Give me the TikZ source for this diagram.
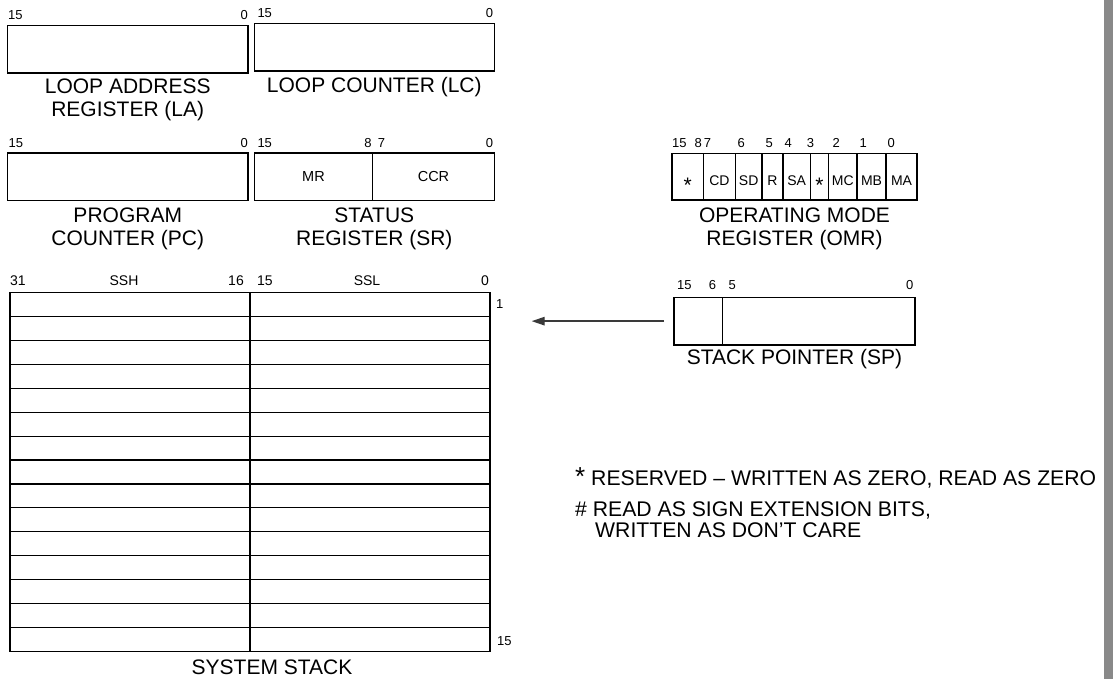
\documentclass[tikz,border=0pt]{standalone}
\usepackage{fontspec}
\setmainfont{Liberation Sans}
\usetikzlibrary{arrows.meta,positioning,calc}
\definecolor{BarGrey}{HTML}{898989}
\definecolor{PtrGrey}{HTML}{3A3A3A}
\newcommand{\rsv}{\raisebox{-7pt}{\fontsize{21}{21}\selectfont *}}

\begin{document}
\begin{tikzpicture}[x=1pt,y=-1pt]
  \tikzset{
    reg/.style={draw,line width=1.1pt,inner sep=0pt,outer sep=0pt,minimum height=47.5pt,anchor=north west},
    fld/.style={reg,font=\fontsize{14.5}{14.5}\selectfont},
    omr/.style={reg,minimum height=46.7pt,font=\fontsize{14}{14}\selectfont,text height=18pt,text depth=0pt},
    bit/.style={font=\fontsize{13}{13}\selectfont,inner sep=0pt},
    hdr/.style={font=\fontsize{14}{14}\selectfont,inner sep=0pt},
    nm/.style={font=\fontsize{21}{23}\selectfont,align=center,inner sep=0pt},
    note/.style={font=\fontsize{21.2}{23}\selectfont,inner sep=0pt,anchor=base west},
    ptr/.style={draw=PtrGrey,line width=1.4pt,-{Triangle[length=13pt,width=8.5pt]}}}
  \useasboundingbox (0,0) rectangle (1117,679);

  \node[reg,minimum width=240.5pt] (la) at (7.5,25.5) {};
  \node[bit,anchor=south west] at ($(la.north west)+(0.5,-5.5)$) {15};
  \node[bit,anchor=south east] at ($(la.north east)+(0,-5.5)$) {0};
  \node[nm,below=5.5pt of la] {LOOP ADDRESS\\REGISTER (LA)};

  \node[reg,minimum width=240pt] (lc) at (254.3,23.5) {};
  \node[bit,anchor=south west] at ($(lc.north west)+(3,-5.5)$) {15};
  \node[bit,anchor=south east] at ($(lc.north east)+(-1,-5.5)$) {0};
  \node[nm,below=6pt of lc] {LOOP COUNTER (LC)};

  \node[reg,minimum width=240.5pt] (pc) at (7.5,153) {};
  \node[bit,anchor=south west] at ($(pc.north west)+(1,-5.5)$) {15};
  \node[bit,anchor=south east] at ($(pc.north east)+(0,-5.5)$) {0};
  \node[nm,below=7.5pt of pc] {PROGRAM\\COUNTER (PC)};

  \node[fld,minimum width=118.4pt] (mr) at (254.3,153) {MR};
  \node[fld,minimum width=121.6pt,right=0pt of mr] (ccr) {CCR};
  \node[bit,anchor=south west] at ($(mr.north west)+(3,-5.5)$) {15};
  \node[bit,anchor=south east] at ($(mr.north east)+(-1,-5.5)$) {8};
  \node[bit,anchor=south west] at ($(ccr.north west)+(5,-5.5)$) {7};
  \node[bit,anchor=south east] at ($(ccr.north east)+(-1,-5.5)$) {0};
  \node[nm,anchor=north] at ($(mr.south west)!0.5!(ccr.south east)+(0,7.5)$) {STATUS\\REGISTER (SR)};

  \node[omr,minimum width=31.6pt] (o1) at (672,153.3) {\rsv};
  \node[omr,minimum width=31.7pt,right=0pt of o1] (cd) {CD};
  \node[omr,minimum width=26.7pt,right=0pt of cd] (sd) {SD};
  \node[omr,minimum width=21pt,right=0pt of sd] (rr) {R};
  \node[omr,minimum width=27.3pt,right=0pt of rr] (sa) {SA};
  \node[omr,minimum width=18.3pt,right=0pt of sa] (o3) {\rsv};
  \node[omr,minimum width=28.4pt,right=0pt of o3] (mc) {MC};
  \node[omr,minimum width=29pt,right=0pt of mc] (mb) {MB};
  \node[omr,minimum width=31pt,right=0pt of mb] (ma) {MA};
  \node[bit,anchor=south west] at ($(o1.north west)+(0,-5.5)$) {15};
  \node[bit,anchor=south east] at ($(o1.north east)+(-1.5,-5.5)$) {8};
  \node[bit,anchor=south west] at ($(cd.north west)+(0,-5.5)$) {7};
  \node[bit,anchor=south] at ($(sd.north west)+(6,-5.5)$) {6};
  \node[bit,anchor=south] at ($(rr.north west)+(7.3,-5.5)$) {5};
  \node[bit,anchor=south] at ($(sa.north west)+(5.3,-5.5)$) {4};
  \node[bit,anchor=south] at ($(sa.north east)+(0.3,-5.5)$) {3};
  \node[bit,anchor=south] at ($(mc.north west)+(7.7,-5.5)$) {2};
  \node[bit,anchor=south] at ($(mb.north west)+(6.3,-5.5)$) {1};
  \node[bit,anchor=south] at ($(ma.north west)+(5.3,-5.5)$) {0};
  \node[nm,anchor=north] at ($(o1.south west)!0.5!(ma.south east)+(0,7.5)$) {OPERATING MODE\\REGISTER (OMR)};

  \node[reg,minimum width=48.3pt,minimum height=47.7pt] (sphi) at (674,297.3) {};
  \node[reg,minimum width=192.7pt,minimum height=47.7pt,right=0pt of sphi] (splo) {};
  \node[bit,anchor=south west] at ($(sphi.north west)+(3,-7.3)$) {15};
  \node[bit,anchor=south east] at ($(sphi.north east)+(-6,-7.3)$) {6};
  \node[bit,anchor=south west] at ($(splo.north west)+(6,-7.3)$) {5};
  \node[bit,anchor=south east] at ($(splo.north east)+(-1.5,-7.3)$) {0};
  \node[nm,anchor=north] at ($(sphi.south west)!0.5!(splo.south east)+(0,4.5)$) {STACK POINTER (SP)};

  \node[reg,minimum width=480pt,minimum height=359.4pt] (ss) at (10,292.3) {};
  \foreach \i in {1,...,14}
    \draw[line width=1.1pt] ($(ss.north west)!\i/15!(ss.south west)$) -- ($(ss.north east)!\i/15!(ss.south east)$);
  \draw[line width=1.1pt] (ss.north) -- (ss.south);
  \node[hdr,anchor=south west] at ($(ss.north west)+(0,-6.6)$) {31};
  \node[hdr,anchor=south] at ($(ss.north west)+(114,-6.6)$) {SSH};
  \node[hdr,anchor=south east] at ($(ss.north)+(-6,-6.6)$) {16};
  \node[hdr,anchor=south west] at ($(ss.north)+(7,-6.6)$) {15};
  \node[hdr,anchor=south] at ($(ss.north)+(117,-6.6)$) {SSL};
  \node[hdr,anchor=south east] at ($(ss.north east)+(-1,-6.6)$) {0};
  \node[bit,anchor=west] at ($(ss.north east)+(6,12)$) {1};
  \node[bit,anchor=west] at ($(ss.south east)+(7,-11)$) {15};
  \node[nm,below=8pt of ss,xshift=22pt] {SYSTEM STACK};

  \coordinate (sptip) at ($(sphi.west)+(-142.3,0)$);
  \draw[ptr,shorten <=10pt] (sphi.west) -- (sptip);

  \node[note] (rsvnote) at (575,485.5) {{\fontsize{26}{26}\selectfont *} RESERVED – WRITTEN AS ZERO, READ AS ZERO};
  \node[note] (sgnnote) at (575,516.5) {\# READ AS SIGN EXTENSION BITS,};
  \node[note] (sgnnote2) at (595,537) {WRITTEN AS DON’T CARE};

  \fill[BarGrey] (1104.3,0) rectangle (1112.7,679);
\end{tikzpicture}
\end{document}
